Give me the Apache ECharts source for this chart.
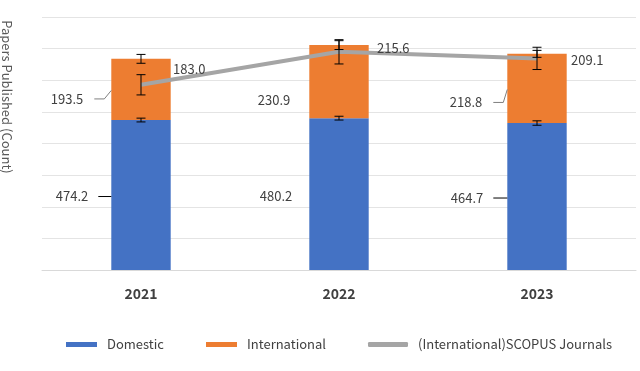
<!DOCTYPE html>
<html>
<head>
<meta charset="utf-8">
<script src="https://cdn.jsdelivr.net/npm/echarts@6/dist/echarts.min.js"></script>
<style>
html,body{margin:0;padding:0;background:#fff;}
#main{width:640px;height:371px;}
</style>
</head>
<body>
<div id="main"></div>
<script>
// ---- data ----
const categories = ['2021', '2022', '2023'];
const domestic = [474.2, 480.2, 464.7];
const international = [193.5, 230.9, 218.8];
const scopus = [183.0, 215.6, 209.1];
const domesticErr = [6, 6, 7];
const internationalErr = [14, 14, 11];
const scopusErr = [10, 12, 11];
const seriesNames = ['Domestic', 'International', '(International)SCOPUS Journals'];

// ---- layout (pixel offsets for data labels, Excel-style manual placement) ----
const domLabelLayout = [[-23, 1.5, true], [-17, 1.5, false], [-24, 1.5, true]];
const intLabelLayout = [[-28, 9.5, true], [-19, 18, false], [-25, 14, true]];
const lineLabelLayout = [[32, -16], [38, -4], [34, 2]];
const legendLefts = [66, 206, 368];
const legendIconWidths = [31, 31, 40];

const FONT = '"Noto Sans CJK KR", "Noto Sans", sans-serif';
const colors = ['#4472C4', '#ED7D31', '#A5A5A5'];

const chart = echarts.init(document.getElementById('main'), null, {renderer: 'canvas'});

const barErrData = [];
categories.forEach((c, i) => {
  barErrData.push([i, domestic[i] - domesticErr[i], domestic[i] + domesticErr[i]]);
  const tot = domestic[i] + international[i];
  barErrData.push([i, tot - internationalErr[i], tot + internationalErr[i]]);
});
const lineErrData = categories.map((c, i) => [i, scopus[i] - scopusErr[i], scopus[i] + scopusErr[i]]);

function errRender(params, api) {
  const x = api.value(0);
  const lo = api.coord([x, api.value(1)]);
  const hi = api.coord([x, api.value(2)]);
  const cw = 4.5;
  const st = {stroke: '#000', lineWidth: 1};
  return {
    type: 'group',
    children: [
      {type: 'line', shape: {x1: lo[0], y1: lo[1], x2: hi[0], y2: hi[1]}, style: st},
      {type: 'line', shape: {x1: lo[0] - cw, y1: lo[1], x2: lo[0] + cw, y2: lo[1]}, style: st},
      {type: 'line', shape: {x1: hi[0] - cw, y1: hi[1], x2: hi[0] + cw, y2: hi[1]}, style: st}
    ]
  };
}

// bar label data: [catIndex, segBottom, segTop, text, kind]
const barLabelData = [];
categories.forEach((c, i) => {
  barLabelData.push([i, 0, domestic[i], domestic[i].toFixed(1), 0]);
  barLabelData.push([i, domestic[i], domestic[i] + international[i], international[i].toFixed(1), 1]);
});

function barLabelRender(params, api) {
  const i = api.value(0);
  const kind = api.value(4);
  const b = api.coord([i, api.value(1)]);
  const t = api.coord([i, api.value(2)]);
  const half = api.size([1, 0])[0] * 0.15;
  const left = b[0] - half;
  const midY = (b[1] + t[1]) / 2;
  const lay = (kind === 0 ? domLabelLayout : intLabelLayout)[i];
  const tx = left + lay[0];
  const ty = midY + lay[1];
  const children = [{
    type: 'text',
    style: {text: String(barLabelData[params.dataIndex][3]), x: tx, y: ty, align: 'right', verticalAlign: 'middle',
      font: '13px ' + FONT, fill: '#404040'}
  }];
  if (lay[2]) {
    const pts = kind === 0
      ? [[tx + 10, ty], [left, ty]]
      : [[tx + 11, ty], [tx + 21, ty], [left, midY + 1]];
    children.push({type: 'polyline', shape: {points: pts}, style: {stroke: kind === 0 ? '#000' : '#7f7f7f', lineWidth: 1, fill: null}});
  }
  return {type: 'group', children};
}

const lineLabelData = categories.map((c, i) => [i, scopus[i], scopus[i].toFixed(1)]);
function lineLabelRender(params, api) {
  const i = api.value(0);
  const p = api.coord([i, api.value(1)]);
  const lay = lineLabelLayout[i];
  return {
    type: 'text',
    style: {text: lineLabelData[params.dataIndex][2], x: p[0] + lay[0], y: p[1] + lay[1], align: 'left', verticalAlign: 'middle',
      font: '13px ' + FONT, fill: '#404040'}
  };
}

const legends = seriesNames.map((n, k) => ({
  data: [n],
  left: legendLefts[k], top: 338, padding: 0,
  itemWidth: legendIconWidths[k], itemHeight: 5,
  icon: k === 2 ? 'roundRect' : 'rect',
  textStyle: {fontSize: 13, color: '#404040', fontFamily: FONT, padding: [0, 0, 0, 5]}
}));

const option = {
  animation: false,
  color: colors,
  textStyle: {fontFamily: FONT},
  grid: {left: 42, right: 4, top: 17, bottom: 101},
  legend: legends,
  graphic: [{
    type: 'text', x: 7, y: 97, rotation: -Math.PI / 2,
    style: {text: 'Papers Published (Count)', align: 'center', verticalAlign: 'middle', font: '13px ' + FONT, fill: '#595959'}
  }],
  xAxis: {
    type: 'category', data: categories,
    axisLine: {lineStyle: {color: '#d9d9d9'}},
    axisTick: {show: false},
    axisLabel: {fontSize: 14, fontWeight: 'bold', color: '#404040', margin: 17, fontFamily: FONT}
  },
  yAxis: [
    {type: 'value', min: 0, max: 800, interval: 100,
      axisLabel: {show: false}, axisLine: {show: false}, axisTick: {show: false},
      splitLine: {lineStyle: {color: '#e4e4e4'}}},
    {type: 'value', min: 0, max: 250, show: false, splitLine: {show: false}}
  ],
  series: [
    {name: seriesNames[0], type: 'bar', stack: 'a', data: domestic, barWidth: '30%', itemStyle: {color: colors[0]}, z: 2},
    {name: seriesNames[1], type: 'bar', stack: 'a', data: international, barWidth: '30%', itemStyle: {color: colors[1]}, z: 2},
    {name: seriesNames[2], type: 'line', yAxisIndex: 1, data: scopus, showSymbol: false, symbol: 'none',
      lineStyle: {color: colors[2], width: 4}, itemStyle: {color: colors[2]}, z: 3},
    {type: 'custom', name: 'errBars', yAxisIndex: 0, data: barErrData, renderItem: errRender, encode: {x: 0, y: [1, 2]}, z: 5, silent: true},
    {type: 'custom', name: 'errLine', yAxisIndex: 1, data: lineErrData, renderItem: errRender, encode: {x: 0, y: [1, 2]}, z: 5, silent: true},
    {type: 'custom', name: 'barLabels', yAxisIndex: 0, data: barLabelData, renderItem: barLabelRender, encode: {x: 0, y: [1, 2]}, z: 6, silent: true},
    {type: 'custom', name: 'lineLabels', yAxisIndex: 1, data: lineLabelData, renderItem: lineLabelRender, encode: {x: 0, y: 1}, z: 6, silent: true}
  ]
};
chart.setOption(option);
</script>
</body>
</html>
